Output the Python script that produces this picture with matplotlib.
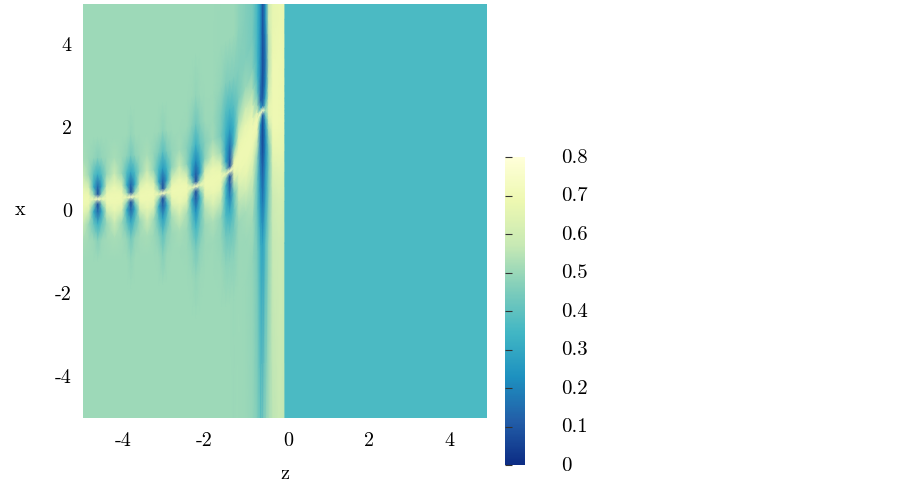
import numpy as np
import matplotlib
matplotlib.use('Agg')
import matplotlib.pyplot as plt
from matplotlib.colors import LinearSegmentedColormap
from matplotlib.transforms import ScaledTranslation

plt.rcParams['font.family'] = ['cmr10', 'DejaVu Serif']
plt.rcParams['axes.formatter.use_mathtext'] = True

W, H = 903, 488

# ── grid: columns in z, each with the height of its
#    bright band, rows given as offsets from that band ──
offsets = [-9, -3.2, -2.2, -1.5, -1, -0.6, -0.3, -0.12, 0, 0.12, 0.3, 0.6, 1, 1.5, 2.2, 3.2, 9]

z_cols = [-5.0, -4.85, -4.73, -4.63, -4.53, -4.41, -4.22,
          -4.03, -3.91, -3.81, -3.71, -3.59, -3.41,
          -3.24, -3.12, -3.02, -2.92, -2.80, -2.61,
          -2.42, -2.30, -2.20, -2.10, -1.98, -1.78,
          -1.58, -1.46, -1.36, -1.26, -1.14, -0.97,
          -0.80, -0.68, -0.60, -0.55, -0.48, -0.40, -0.30, -0.15, -0.02, -0.002,
          0.0, 5.0]

band_x = [0.27, 0.28, 0.285, 0.29, 0.295, 0.30, 0.31,
          0.32, 0.33, 0.34, 0.35, 0.36, 0.38,
          0.40, 0.41, 0.43, 0.45, 0.47, 0.50,
          0.54, 0.57, 0.60, 0.63, 0.67, 0.74,
          0.82, 0.90, 0.97, 1.05, 1.25, 1.50,
          1.95, 2.25, 2.38, 2.43, 2.43, 2.43, 2.43, 2.43, 2.43, 2.43,
          2.43, 2.43]

band_vals = [
    [.505, .505, .505, .505, .52, .58, .66, .69, .69, .69, .66, .58, .52, .505, .505, .505, .505],
    [.505, .505, .505, .505, .51, .50, .60, .68, .69, .68, .60, .50, .50, .505, .505, .505, .505],
    [.505, .505, .505, .505, .50, .41, .31, .48, .66, .48, .31, .39, .49, .505, .505, .505, .505],
    [.505, .505, .505, .505, .47, .33, .14, .08, .74, .08, .14, .33, .47, .505, .505, .505, .505],
    [.505, .505, .505, .505, .50, .41, .31, .48, .66, .48, .31, .39, .49, .505, .505, .505, .505],
    [.505, .505, .505, .505, .51, .50, .60, .68, .69, .68, .60, .50, .50, .505, .505, .505, .505],
    [.505, .505, .505, .505, .52, .58, .67, .69, .69, .69, .67, .58, .52, .505, .505, .505, .505],

    [.505, .505, .505, .505, .51, .50, .61, .68, .69, .68, .60, .49, .50, .505, .505, .505, .505],
    [.505, .505, .505, .505, .49, .40, .31, .48, .66, .48, .31, .37, .48, .505, .505, .505, .505],
    [.505, .505, .505, .49, .44, .30, .13, .08, .74, .08, .13, .30, .44, .49, .505, .505, .505],
    [.505, .505, .505, .505, .49, .40, .31, .48, .66, .48, .31, .37, .48, .505, .505, .505, .505],
    [.505, .505, .505, .505, .51, .50, .61, .68, .69, .68, .60, .49, .50, .505, .505, .505, .505],
    [.505, .505, .505, .505, .52, .59, .67, .69, .69, .69, .67, .58, .52, .505, .505, .505, .505],

    [.505, .505, .505, .505, .50, .51, .62, .68, .69, .68, .60, .48, .49, .505, .505, .505, .505],
    [.505, .505, .505, .50, .47, .39, .31, .48, .66, .48, .30, .35, .45, .50, .505, .505, .505],
    [.505, .505, .505, .47, .40, .27, .12, .08, .74, .08, .12, .26, .39, .48, .505, .505, .505],
    [.505, .505, .505, .50, .47, .39, .31, .48, .66, .48, .30, .35, .45, .50, .505, .505, .505],
    [.505, .505, .505, .505, .50, .52, .62, .68, .69, .68, .60, .48, .49, .505, .505, .505, .505],
    [.505, .505, .505, .505, .52, .60, .68, .69, .69, .69, .67, .57, .51, .505, .505, .505, .505],

    [.505, .505, .505, .50, .50, .52, .63, .68, .69, .68, .60, .47, .47, .50, .505, .505, .505],
    [.505, .505, .50, .48, .43, .38, .31, .48, .66, .48, .28, .32, .41, .47, .50, .505, .505],
    [.505, .505, .49, .44, .35, .23, .11, .08, .74, .08, .11, .21, .33, .43, .49, .505, .505],
    [.505, .505, .50, .48, .43, .39, .33, .48, .66, .48, .28, .32, .41, .47, .50, .505, .505],
    [.505, .505, .505, .50, .50, .54, .64, .68, .69, .68, .62, .48, .47, .50, .505, .505, .505],
    [.505, .505, .505, .505, .53, .62, .68, .69, .69, .69, .68, .59, .51, .50, .505, .505, .505],

    [.505, .505, .50, .49, .49, .56, .65, .68, .69, .68, .63, .50, .44, .45, .49, .50, .505],
    [.505, .505, .48, .43, .36, .34, .35, .48, .66, .48, .29, .29, .33, .38, .46, .50, .505],
    [.505, .505, .48, .42, .32, .19, .11, .08, .74, .08, .11, .16, .27, .36, .46, .50, .505],
    [.505, .50, .48, .44, .40, .42, .57, .67, .69, .67, .54, .37, .34, .39, .46, .50, .505],
    [.505, .505, .50, .50, .55, .62, .68, .69, .69, .69, .68, .62, .52, .45, .46, .48, .50],
    [.50, .50, .50, .52, .60, .67, .69, .69, .69, .69, .69, .67, .59, .50, .46, .46, .46],

    [.49, .49, .51, .55, .61, .66, .69, .69, .69, .69, .68, .61, .52, .46, .44, .44, .44],
    [.46, .44, .40, .41, .46, .55, .66, .69, .69, .66, .50, .40, .35, .34, .34, .35, .35],
    [.42, .32, .24, .20, .17, .17, .22, .45, .72, .30, .14, .16, .20, .21, .22, .24, .24],
    [.46, .28, .17, .12, .08, .07, .07, .10, .74, .15, .10, .08, .08, .08, .09, .09, .09],
    [.50, .38, .30, .26, .22, .22, .28, .40, .50, .42, .30, .22, .18, .18, .24, .26, .26],
    [.53, .49, .46, .44, .43, .50, .60, .66, .66, .66, .62, .58, .55, .55, .60, .60, .60],
    [.55, .57, .59, .62, .66, .68, .69, .69, .69, .69, .69, .69, .69, .68, .67, .67, .67],
    [.57, .59, .61, .64, .67, .68, .69, .69, .69, .69, .69, .69, .69, .69, .68, .68, .68],
    [.56, .58, .60, .63, .66, .67, .68, .68, .68, .68, .68, .68, .68, .68, .68, .68, .68],
    [.56, .58, .60, .63, .66, .67, .68, .68, .68, .68, .68, .68, .68, .68, .68, .68, .68],

    [.36, .36, .36, .36, .36, .36, .36, .36, .36, .36, .36, .36, .36, .36, .36, .36, .36],
    [.36, .36, .36, .36, .36, .36, .36, .36, .36, .36, .36, .36, .36, .36, .36, .36, .36],
]

cmap_colors = ['#0c2c84', '#225ea8', '#1d91c0', '#41b6c4', '#7fcdbb', '#c7e9b4', '#edf8b1', '#ffffd9']

z_ticks = [-4, -2, 0, 2, 4]
x_ticks = [-4, -2, 0, 2, 4]
z_labels = ['-4', '-2', '0', '2', '4']
x_labels = ['-4', '-2', '0', '2', '4']
cb_ticks = [0, 0.1, 0.2, 0.3, 0.4, 0.5, 0.6, 0.7, 0.8]
cb_labels = ['0', '0.1', '0.2', '0.3', '0.4', '0.5', '0.6', '0.7', '0.8']


def px_box(left, top, right, bottom):
    return [left / W, 1 - bottom / H, (right - left) / W, (bottom - top) / H]


cmap = LinearSegmentedColormap.from_list('ylgnbu_trunc', cmap_colors)

fig = plt.figure(figsize=(W / 100, H / 100), dpi=100)
ax = fig.add_axes(px_box(83, 4, 487, 418))

Z = np.array(z_cols)[:, None] * np.ones((1, len(offsets)))
X = np.array(band_x)[:, None] + np.array(offsets)[None, :]
mesh = ax.pcolormesh(Z, X, np.array(band_vals), cmap=cmap, vmin=0, vmax=0.8,
                     shading='gouraud', rasterized=True)

ax.set_xlim(-5, 5)
ax.set_ylim(-5, 5)
for s in ax.spines.values():
    s.set_visible(False)
ax.set_xticks(z_ticks)
ax.set_xticklabels(z_labels)
ax.set_yticks(x_ticks)
ax.set_yticklabels(x_labels)
ax.tick_params(length=0, labelsize=14.5)
ax.tick_params(axis='x', pad=10)
ax.tick_params(axis='y', pad=8)
# the positive labels sit slightly right of their tick in the original
for lab, val in zip(ax.get_xticklabels(), z_ticks):
    if val >= 0:
        lab.set_transform(lab.get_transform() + ScaledTranslation(3 / 100, 0, fig.dpi_scale_trans))
for lab in ax.get_yticklabels():
    lab.set_transform(lab.get_transform() + ScaledTranslation(0, 1 / 100, fig.dpi_scale_trans))

fig.text(20 / W, 1 - 210 / H, 'x', fontsize=14.5, ha='center', va='center')
fig.text(285 / W, 1 - 474 / H, 'z', fontsize=14.5, ha='center', va='center')

cax = fig.add_axes(px_box(505, 157, 525, 465))
cb = fig.colorbar(mesh, cax=cax)
cb.outline.set_visible(False)
cb.set_ticks(cb_ticks)
cb.set_ticklabels(cb_labels)
cax.tick_params(left=True, right=False, labelleft=False, labelright=True,
                direction='in', length=5, width=0.8, color='#333333',
                labelsize=15, pad=26)
for lab in cax.get_yticklabels():
    lab.set_transform(lab.get_transform() + ScaledTranslation(0, 1 / 100, fig.dpi_scale_trans))

fig.savefig('out.png', dpi=100)
